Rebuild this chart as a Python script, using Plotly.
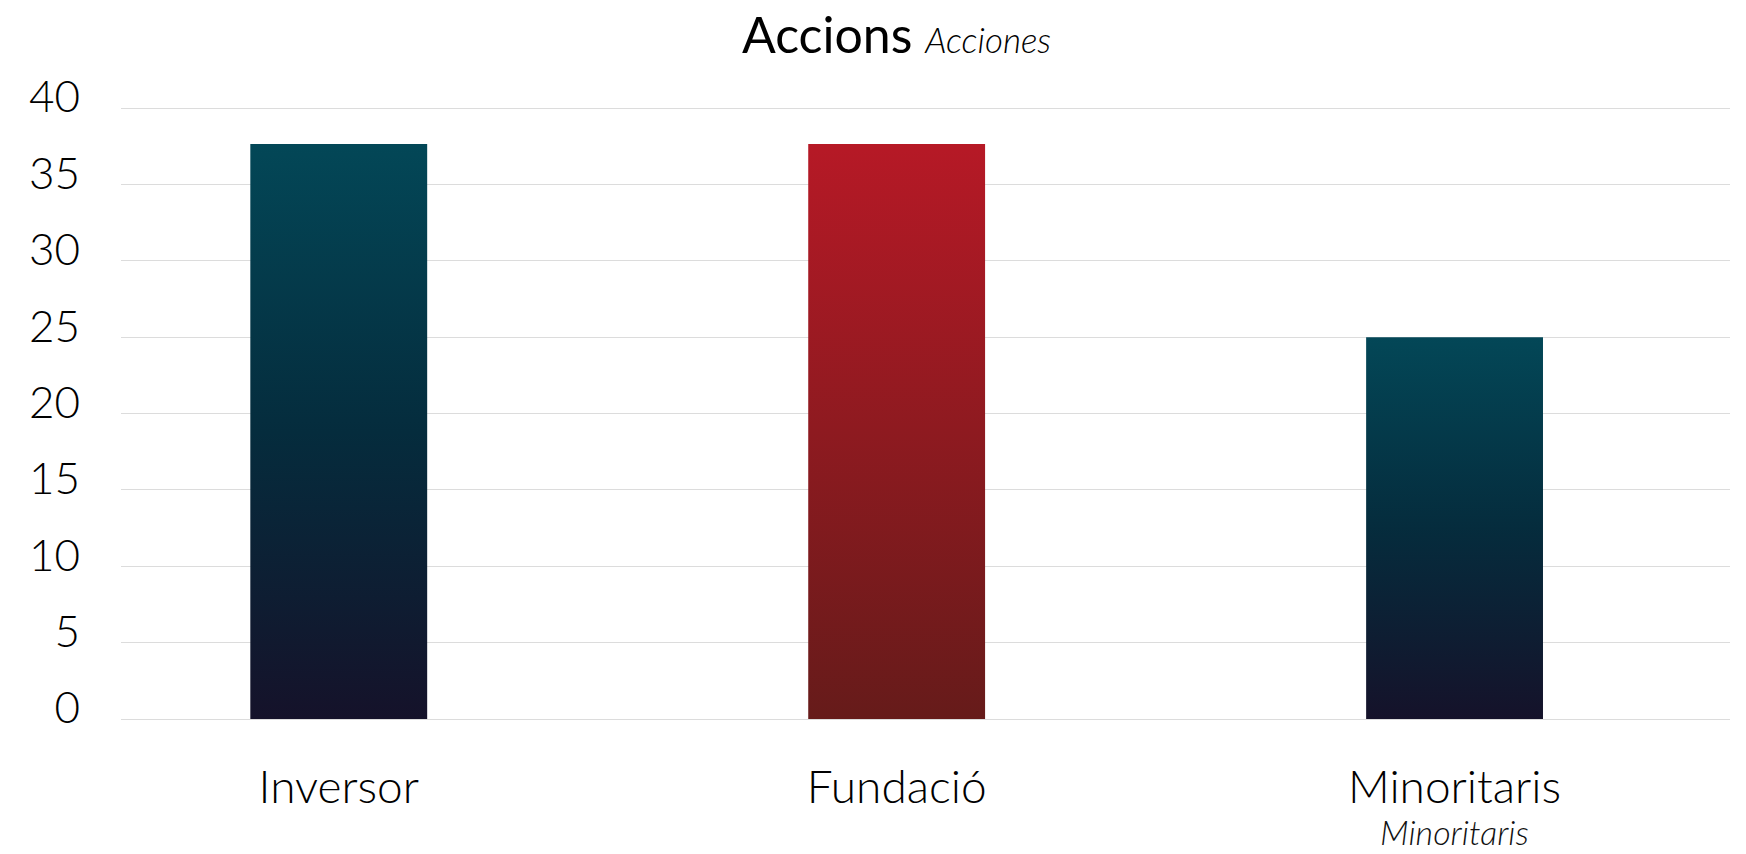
import plotly.graph_objects as go

categories = ["Inversor", "Fundació", "Minoritaris"]
subtitles = ["", "", "Minoritaris"]
values = [37.65, 37.65, 25]
y_ticks = [0, 5, 10, 15, 20, 25, 30, 35, 40]

teal_scale = [[0, "#15122A"], [0.5, "#052C3D"], [1, "#034757"]]
red_scale = [[0, "#661B1A"], [1, "#B61926"]]
scales = [teal_scale, red_scale, teal_scale]

BAR_W = 0.317
FONT = "Lato"

fig = go.Figure()
for i, (cat, v) in enumerate(zip(categories, values)):
    fig.add_trace(go.Scatter(
        x=[i - BAR_W / 2, i + BAR_W / 2],
        y=[v, v],
        mode="none",
        fill="tozeroy",
        fillgradient=dict(type="vertical", colorscale=scales[i], start=0, stop=v),
        name=cat,
        showlegend=False,
        hoverinfo="x+y",
    ))

# secondary (Spanish) labels under the category labels
for i, s in enumerate(subtitles):
    if s:
        fig.add_annotation(
            x=i, xref="x", y=-0.184, yref="paper",
            text=f"<i>{s}</i>", showarrow=False,
            xanchor="center", yanchor="middle",
            font=dict(family=FONT, size=34, color="#111111", weight=300),
        )

fig.update_layout(
    width=1746, height=854,
    margin=dict(l=121, r=16, t=105, b=135, autoexpand=False),
    paper_bgcolor="white", plot_bgcolor="white",
    font=dict(family=FONT, color="#000000"),
    title=dict(
        text="Accions <span style='font-size:35px;font-weight:300'><i>Acciones</i></span>",
        x=0.5135, xref="container", xanchor="center",
        y=0.959, yref="container", yanchor="middle",
        font=dict(family=FONT, size=50, color="#000000"),
    ),
    xaxis=dict(
        range=[-0.3903, 2.4937],
        tickvals=list(range(len(categories))),
        ticktext=categories,
        showgrid=False, zeroline=False, showline=False,
        ticks="", ticklabelstandoff=37,
        tickfont=dict(family=FONT, size=46, color="#000000", weight=300),
        fixedrange=True,
    ),
    yaxis=dict(
        range=[0, 40.2],
        tickvals=y_ticks,
        showgrid=True, gridcolor="#DCDCDC", gridwidth=1.3,
        zeroline=True, zerolinecolor="#DCDCDC", zerolinewidth=1.3,
        showline=False, ticks="",
        ticklabelstandoff=40, ticklabelshift=-11,
        tickfont=dict(family=FONT, size=44, color="#000000", weight=300),
        fixedrange=True,
    ),
)

fig.write_html("out.html")
